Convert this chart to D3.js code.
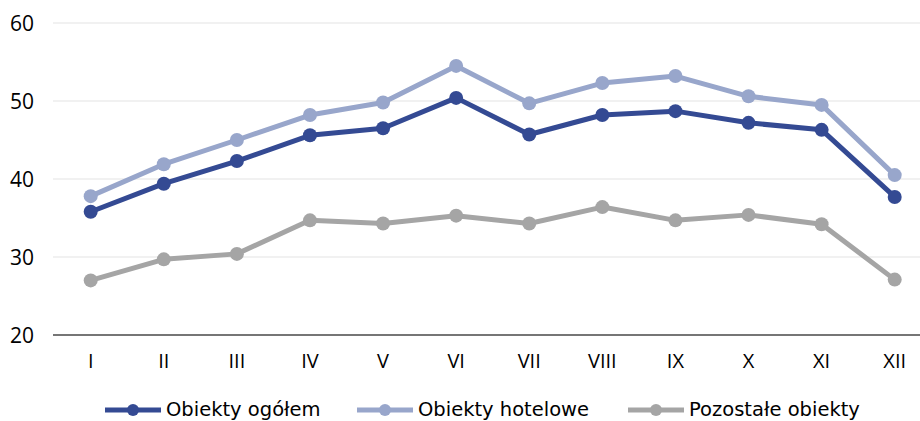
<!DOCTYPE html>
<html><head><meta charset="utf-8">
<script src="https://cdn.jsdelivr.net/npm/d3@7"></script>
<style>body{margin:0;background:#fff}svg{display:block}</style>
</head><body><svg id="c" width="920" height="421"></svg>
<script>
const categories = ["I","II","III","IV","V","VI","VII","VIII","IX","X","XI","XII"];
const ogolem = [35.8,39.4,42.3,45.6,46.5,50.4,45.7,48.2,48.7,47.2,46.3,37.7];
const hotelowe = [37.8,41.9,45.0,48.2,49.8,54.5,49.7,52.3,53.2,50.6,49.5,40.5];
const pozostale = [27.0,29.7,30.4,34.7,34.3,35.3,34.3,36.4,34.7,35.4,34.2,27.1];
const yTicks = [20,30,40,50,60];
const seriesNames = ["Obiekty ogółem","Obiekty hotelowe","Pozostałe obiekty"];
const colors = ["#344a93","#98a6cb","#a5a5a5"];

const svg = d3.select("#c");
const x = d3.scalePoint().domain(categories).range([90.7,894.7]);
const y = d3.scaleLinear().domain([20,60]).range([335,23]);
const axisFont = "'Open Sans','Noto Sans',sans-serif";

svg.append("g").selectAll("line").data(yTicks.filter(t=>t>20)).join("line")
  .attr("x1",53).attr("x2",920).attr("y1",d=>y(d)).attr("y2",d=>y(d))
  .attr("stroke","#e3e3e3").attr("stroke-width",1);
svg.append("line").attr("x1",53).attr("x2",920).attr("y1",y(20)).attr("y2",y(20))
  .attr("stroke","#767676").attr("stroke-width",2);

svg.append("g").attr("font-family",axisFont).selectAll("text").data(yTicks).join("text")
  .attr("x",34).attr("y",d=>y(d)+7.5).attr("text-anchor","end")
  .attr("font-size",21).attr("fill","#000").text(d=>d);
svg.append("g").attr("font-family",axisFont).selectAll("text").data(categories).join("text")
  .attr("x",d=>x(d)).attr("y",368).attr("text-anchor","middle")
  .attr("font-size",20).attr("fill","#000").text(d=>d);

const data = [ogolem,hotelowe,pozostale];
const line = d3.line().x((d,i)=>x(categories[i])).y(d=>y(d));
[2,1,0].forEach(k=>{
  const g = svg.append("g");
  g.append("path").attr("d",line(data[k])).attr("fill","none")
    .attr("stroke",colors[k]).attr("stroke-width",5).attr("stroke-linejoin","round");
  g.selectAll("circle").data(data[k]).join("circle")
    .attr("cx",(d,i)=>x(categories[i])).attr("cy",d=>y(d)).attr("r",7)
    .attr("fill",colors[k]);
});

const legX = [105,357,628];
const lg = svg.append("g").attr("font-family","'DejaVu Sans',sans-serif");
seriesNames.forEach((n,i)=>{
  const lx = legX[i];
  lg.append("line").attr("x1",lx).attr("x2",lx+56).attr("y1",410).attr("y2",410)
    .attr("stroke",colors[i]).attr("stroke-width",5);
  lg.append("circle").attr("cx",lx+28).attr("cy",410).attr("r",6).attr("fill",colors[i]);
  lg.append("text").attr("x",lx+61).attr("y",416).attr("font-size",19.5).attr("fill","#000").text(n);
});
</script></body></html>
